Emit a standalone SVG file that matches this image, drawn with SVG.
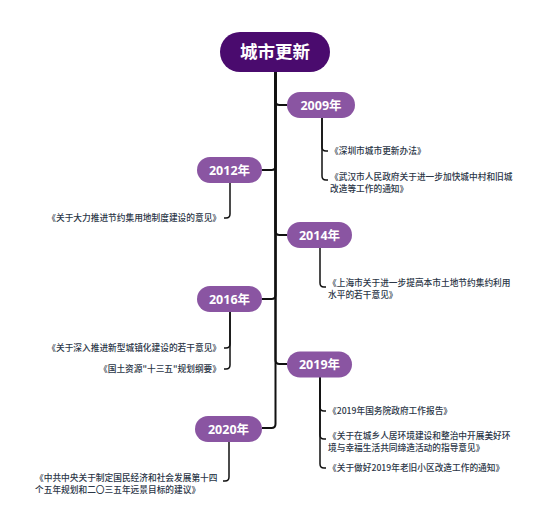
<svg xmlns="http://www.w3.org/2000/svg" width="550" height="529" viewBox="0 0 550 529">
<style>
.root{fill:#4a0b6e}
.yr{fill:#8a55a2}
.rt{font-family:"Noto Sans CJK SC","Noto Sans",sans-serif;font-size:17.5px;font-weight:700;fill:#fff;text-anchor:middle}
.yt{font-family:"Noto Sans","Noto Sans CJK SC",sans-serif;font-size:12.5px;font-weight:700;fill:#fff;text-anchor:middle}
.it{font-family:"Noto Sans CJK SC",sans-serif;font-size:8.7px;font-weight:500;fill:#2b3647}
.end{text-anchor:end}
.trunk{fill:none;stroke:#111;stroke-width:2}
.sub{fill:none;stroke:#111;stroke-width:1.5}
</style>
<rect width="550" height="529" fill="#fff"/>
<g id="connectors">
<path class="trunk" d="M275.5,72 V101 Q275.5,105 279.5,105 H287"/>
<path class="trunk" d="M275.5,72 V166 Q275.5,170 271.5,170 H262"/>
<path class="trunk" d="M275.5,72 V231 Q275.5,235 279.5,235 H287"/>
<path class="trunk" d="M275.5,72 V295 Q275.5,299 271.5,299 H262"/>
<path class="trunk" d="M275.5,72 V360 Q275.5,364 279.5,364 H287"/>
<path class="trunk" d="M275.5,72 V424 Q275.5,428 271.5,428 H262"/>
<path class="sub" d="M322,118 V147 Q322,151 326,151 H328"/>
<path class="sub" d="M322,118 V176 Q322,180 326,180 H328"/>
<path class="sub" d="M230,183 V214 Q230,218 226,218 H224"/>
<path class="sub" d="M320,248 V283 Q320,287 324,287 H326"/>
<path class="sub" d="M230,312 V344 Q230,348 226,348 H224"/>
<path class="sub" d="M230,312 V365 Q230,369 226,369 H224"/>
<path class="sub" d="M320,377 V407 Q320,411 324,411 H326"/>
<path class="sub" d="M320,377 V435 Q320,439 324,439 H326"/>
<path class="sub" d="M320,377 V464 Q320,468 324,468 H326"/>
<path class="sub" d="M229,442 V477 Q229,481 225,481 H223"/>
</g>
<g id="root">
<rect class="root" x="220" y="32" width="110" height="40" rx="20"/>
<text class="rt" x="275" y="58">城市更新</text>
</g>
<g id="y2009">
<rect class="yr" x="287" y="92" width="68" height="26" rx="13"/>
<text class="yt" x="321" y="109.5">2009年</text>
</g>
<g id="y2009-items">
<text class="it" x="330" y="154">《深圳市城市更新办法》</text>
<text class="it" x="330" y="179.5">《武汉市人民政府关于进一步加快城中村和旧城</text>
<text class="it" x="330" y="191.5">改造等工作的通知》</text>
</g>
<g id="y2012">
<rect class="yr" x="197" y="157" width="65" height="26" rx="13"/>
<text class="yt" x="229.5" y="174.5">2012年</text>
</g>
<g id="y2012-items">
<text class="it end" x="221" y="221">《关于大力推进节约集用地制度建设的意见》</text>
</g>
<g id="y2014">
<rect class="yr" x="287" y="222" width="65" height="26" rx="13"/>
<text class="yt" x="319.5" y="239.5">2014年</text>
</g>
<g id="y2014-items">
<text class="it" x="328" y="285.5">《上海市关于进一步提高本市土地节约集约利用</text>
<text class="it" x="328" y="297.5">水平的若干意见》</text>
</g>
<g id="y2016">
<rect class="yr" x="197" y="286" width="65" height="26" rx="13"/>
<text class="yt" x="229.5" y="303.5">2016年</text>
</g>
<g id="y2016-items">
<text class="it end" x="221" y="351">《关于深入推进新型城镇化建设的若干意见》</text>
<text class="it end" x="221" y="372">《国土资源"十三五"规划纲要》</text>
</g>
<g id="y2019">
<rect class="yr" x="287" y="351.5" width="65" height="26" rx="13"/>
<text class="yt" x="319.5" y="369">2019年</text>
</g>
<g id="y2019-items">
<text class="it" x="328" y="414">《2019年国务院政府工作报告》</text>
<text class="it" x="328" y="438.5">《关于在城乡人居环境建设和整治中开展美好环</text>
<text class="it" x="328" y="450.5">境与幸福生活共同缔造活动的指导意见》</text>
<text class="it" x="328" y="471">《关于做好2019年老旧小区改造工作的通知》</text>
</g>
<g id="y2020">
<rect class="yr" x="195" y="416" width="67" height="26" rx="13"/>
<text class="yt" x="228.5" y="433.5">2020年</text>
</g>
<g id="y2020-items">
<text class="it" x="35" y="481">《中共中央关于制定国民经济和社会发展第十四</text>
<text class="it" x="35" y="493">个五年规划和二〇三五年远景目标的建议》</text>
</g>
</svg>
